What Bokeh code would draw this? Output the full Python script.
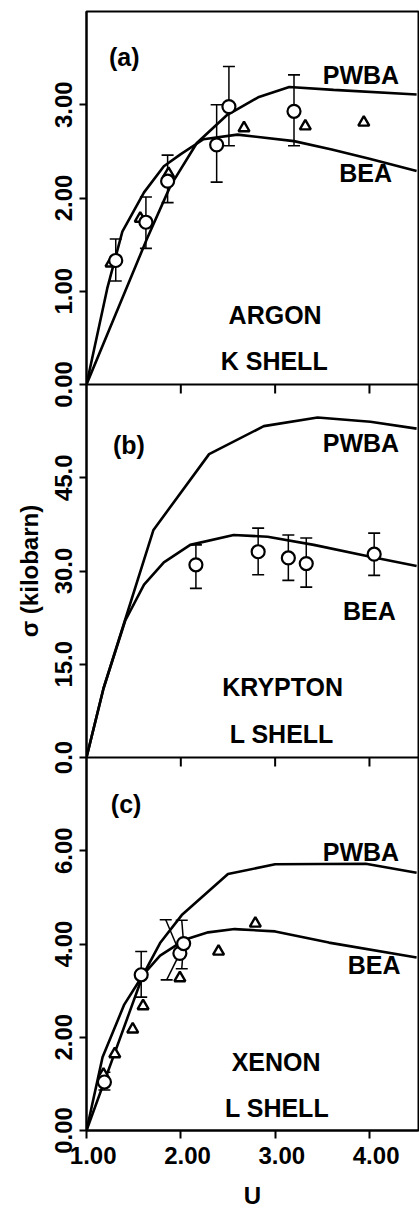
import math
from bokeh.plotting import figure
from bokeh.models import Range1d, FixedTicker, Span, Label, Title
from bokeh.embed import file_html
from bokeh.resources import INLINE

# ---------------- data ----------------
x_ticks = [1.0, 2.0, 3.0, 4.0]
x_tick_labels = ["1.00", "2.00", "3.00", "4.00"]

# panel (a) ARGON K shell, sigma in kilobarn
a_ticks = [0.0, 1.0, 2.0, 3.0]
a_tick_labels = ["0.00", "1.00", "2.00", "3.00"]
a_pwba_u = [1.0, 1.64, 1.89, 2.17, 2.49, 2.82, 3.15, 3.62, 4.5]
a_pwba_s = [0.0, 1.56, 2.13, 2.59, 2.89, 3.08, 3.19, 3.16, 3.11]
a_bea_u = [1.0, 1.22, 1.38, 1.61, 1.82, 2.0, 2.24, 2.6, 3.2, 3.6, 4.0, 4.5]
a_bea_s = [0.0, 1.03, 1.64, 2.06, 2.34, 2.47, 2.63, 2.68, 2.61, 2.52, 2.42, 2.29]
a_circ_u = [1.31, 1.63, 1.86, 2.38, 2.51, 3.2]
a_circ_s = [1.33, 1.74, 2.18, 2.57, 2.98, 2.93]
a_err_hi = [1.56, 2.01, 2.46, 3.0, 3.41, 3.32]
a_err_lo = [1.11, 1.46, 1.95, 2.17, 2.56, 2.56]
a_tri_u = [1.26, 1.57, 1.87, 2.67, 3.32, 3.94]
a_tri_s = [1.30, 1.78, 2.26, 2.75, 2.77, 2.81]

# panel (b) KRYPTON L shell
b_ticks = [0.0, 15.0, 30.0, 45.0]
b_tick_labels = ["0.0", "15.0", "30.0", "45.0"]
b_pwba_u = [1.0, 1.18, 1.71, 2.30, 2.88, 3.45, 4.01, 4.5]
b_pwba_s = [0.0, 11.1, 36.6, 48.8, 53.3, 54.7, 54.0, 52.9]
b_bea_u = [1.0, 1.18, 1.41, 1.61, 1.82, 2.10, 2.56, 2.92, 3.41, 4.01, 4.5]
b_bea_s = [0.0, 11.1, 22.0, 27.8, 31.4, 34.2, 35.8, 35.5, 34.2, 32.3, 30.8]
b_circ_u = [2.16, 2.82, 3.14, 3.33, 4.05]
b_circ_s = [31.0, 33.1, 32.1, 31.2, 32.7]
b_err_hi = [34.2, 36.9, 35.8, 35.3, 36.1]
b_err_lo = [27.2, 29.4, 28.5, 27.4, 29.3]

# panel (c) XENON L shell
c_ticks = [0.0, 2.0, 4.0, 6.0]
c_tick_labels = ["0.00", "2.00", "4.00", "6.00"]
c_pwba_u = [1.0, 1.23, 1.46, 1.60, 1.78, 2.01, 2.50, 3.0, 3.96, 4.5]
c_pwba_s = [0.0, 1.28, 2.56, 3.34, 4.02, 4.62, 5.50, 5.71, 5.72, 5.53]
c_bea_u = [1.0, 1.17, 1.40, 1.60, 1.78, 2.04, 2.29, 2.57, 3.0, 3.57, 4.5]
c_bea_s = [0.0, 1.57, 2.70, 3.34, 3.75, 4.09, 4.25, 4.32, 4.27, 4.03, 3.71]
c_circ_u = [1.19, 1.58, 1.99, 2.03]
c_circ_s = [1.04, 3.34, 3.80, 4.01]
c_err_hi = [1.25, 3.84, 4.52, 4.51]
c_err_lo = [0.87, 2.86, 3.23, 3.47]
c_err_hi_u = [1.19, 1.58, 1.84, 2.01]   # one bar is drawn slanted in the original
c_err_lo_u = [1.19, 1.58, 1.85, 2.01]
c_tri_u = [1.18, 1.30, 1.49, 1.60, 1.99, 2.40, 2.79]
c_tri_s = [1.20, 1.64, 2.17, 2.67, 3.27, 3.84, 4.44]

# ---------------- styling ----------------
FONT = "Liberation Sans"
FS = "24px"
FS_TXT = "25px"
LW = 2.6
W, H = 419, 1211
MB_L, MB_R, MB_T, MB_B = 86, 1, 11, 75
frame_h = H - MB_T - MB_B

# three stacked panels share one frame; master y: c in [0,1], b in [1,2], a in [2,3]
panels = [
    dict(name="a", idx=2, top=4.0, ticks=a_ticks, labels=a_tick_labels),
    dict(name="b", idx=1, top=60.0, ticks=b_ticks, labels=b_tick_labels),
    dict(name="c", idx=0, top=8.0, ticks=c_ticks, labels=c_tick_labels),
]

p = figure(width=W, height=H, x_range=Range1d(1.0, 4.52), y_range=Range1d(0, 3),
           output_backend="svg", toolbar_location=None,
           min_border_left=MB_L, min_border_right=MB_R,
           min_border_top=MB_T, min_border_bottom=MB_B)
p.grid.visible = False
p.outline_line_color = "black"
p.outline_line_width = 2
p.background_fill_color = "white"
p.border_fill_color = "white"

for pn in panels:
    top = pn["top"]
    i = pn["idx"]
    p.extra_y_ranges[pn["name"]] = Range1d(-i * top, (3 - i) * top)

# y axis
ytick_pos = []
ytick_over = {}
for pn in panels:
    for t, lab in zip(pn["ticks"], pn["labels"]):
        pos = pn["idx"] + t / pn["top"]
        ytick_pos.append(pos)
        ytick_over[pos] = lab
yax = p.yaxis[0]
yax.ticker = FixedTicker(ticks=sorted(ytick_pos))
yax.major_label_overrides = ytick_over
yax.major_label_orientation = "vertical"
yax.major_tick_out = 7
yax.major_tick_in = 0
yax.minor_tick_line_color = None
yax.axis_line_width = 2
yax.major_tick_line_width = 2
yax.major_label_text_font = FONT
yax.major_label_text_font_style = "bold"
yax.major_label_text_font_size = FS
yax.major_label_text_color = "black"
yax.major_label_standoff = 8

xax = p.xaxis[0]
xax.ticker = FixedTicker(ticks=x_ticks)
# a figure space in front shifts each label a little to the right, as in the original
xax.major_label_overrides = {t: "\u2007" + l for t, l in zip(x_ticks, x_tick_labels)}
xax.major_tick_out = 8
xax.major_tick_in = 0
xax.minor_tick_line_color = None
xax.axis_line_width = 2
xax.major_tick_line_width = 2
xax.major_label_text_font = FONT
xax.major_label_text_font_style = "bold"
xax.major_label_text_font_size = FS
xax.major_label_text_color = "black"
xax.major_label_standoff = 3
xax.axis_label = "U"
xax.axis_label_text_font = FONT
xax.axis_label_text_font_style = "bold"
xax.axis_label_text_font_size = FS
xax.axis_label_text_color = "black"
xax.axis_label_standoff = 10

p.add_layout(Title(text="\u03c3 (kilobarn)", align="center", offset=36, standoff=17,
                   text_font=FONT, text_font_style="bold", text_font_size=FS,
                   text_color="black"), "left")

# panel separators and inward ticks at the top of panels b and c
tick_len = 9 * 3 / frame_h
for loc in (1, 2):
    p.add_layout(Span(location=loc, dimension="width", line_color="black", line_width=2))
    p.segment(x0=x_ticks[1:], y0=[loc] * 3, x1=x_ticks[1:], y1=[loc - tick_len] * 3,
              line_color="black", line_width=2)

def draw_panel(name, pwba_u, pwba_s, bea_u, bea_s, cu, cs, ehi, elo, ehu, elu, tu, ts):
    p.line(pwba_u, pwba_s, y_range_name=name, line_color="black", line_width=LW)
    p.line(bea_u, bea_s, y_range_name=name, line_color="black", line_width=LW)
    p.segment(x0=ehu, y0=ehi, x1=cu, y1=cs, y_range_name=name, line_color="black", line_width=1.5)
    p.segment(x0=cu, y0=cs, x1=elu, y1=elo, y_range_name=name, line_color="black", line_width=1.5)
    p.scatter(x=ehu, y=ehi, marker="dash", size=12, y_range_name=name, line_color="black", line_width=1.6)
    p.scatter(x=elu, y=elo, marker="dash", size=12, y_range_name=name, line_color="black", line_width=1.6)
    if tu:
        p.scatter(x=tu, y=ts, marker="triangle", size=11, y_range_name=name,
                  line_color="black", fill_color="white", line_width=2.4)
    p.scatter(x=cu, y=cs, marker="circle", size=13, y_range_name=name,
              line_color="black", fill_color="white", line_width=2.2)

draw_panel("a", a_pwba_u, a_pwba_s, a_bea_u, a_bea_s, a_circ_u, a_circ_s,
           a_err_hi, a_err_lo, a_circ_u, a_circ_u, a_tri_u, a_tri_s)
draw_panel("b", b_pwba_u, b_pwba_s, b_bea_u, b_bea_s, b_circ_u, b_circ_s,
           b_err_hi, b_err_lo, b_circ_u, b_circ_u, [], [])
draw_panel("c", c_pwba_u, c_pwba_s, c_bea_u, c_bea_s, c_circ_u, c_circ_s,
           c_err_hi, c_err_lo, c_err_hi_u, c_err_lo_u, c_tri_u, c_tri_s)

def txt(s, x, y, rname):
    p.add_layout(Label(x=x, y=y, text=s, y_range_name=rname, text_font=FONT,
                       text_font_style="bold", text_font_size=FS_TXT, text_color="black",
                       text_align="center", text_baseline="middle"))

txt("(a)", 1.40, 3.51, "a")
txt("PWBA", 3.91, 3.32, "a")
txt("BEA", 3.96, 2.27, "a")
txt("ARGON", 3.00, 0.745, "a")
txt("K SHELL", 2.99, 0.255, "a")

txt("(b)", 1.45, 50.3, "b")
txt("PWBA", 3.91, 50.6, "b")
txt("BEA", 4.00, 23.6, "b")
txt("KRYPTON", 3.08, 11.3, "b")
txt("L SHELL", 3.07, 3.83, "b")

txt("(c)", 1.42, 7.0, "c")
txt("PWBA", 3.91, 5.98, "c")
txt("BEA", 4.05, 3.55, "c")
txt("XENON", 3.01, 1.47, "c")
txt("L SHELL", 3.02, 0.49, "c")

open("out.html", "w").write(file_html(p, INLINE))
